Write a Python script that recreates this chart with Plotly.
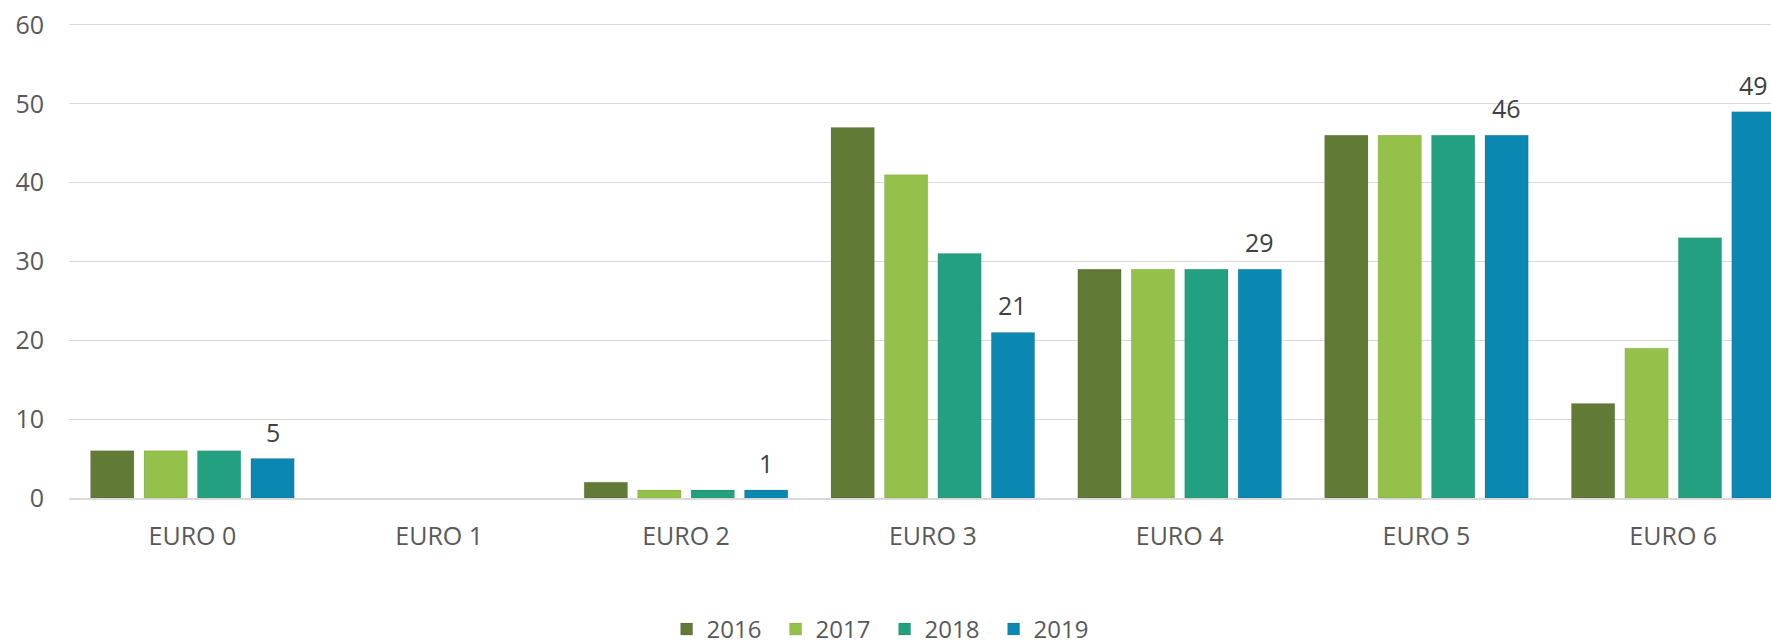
import plotly.graph_objects as go

categories = ["EURO 0", "EURO 1", "EURO 2", "EURO 3", "EURO 4", "EURO 5", "EURO 6"]
years = ["2016", "2017", "2018", "2019"]
v2016 = [6, None, 2, 47, 29, 46, 12]
v2017 = [6, None, 1, 41, 29, 46, 19]
v2018 = [6, None, 1, 31, 29, 46, 33]
v2019 = [5, None, 1, 21, 29, 46, 49]
colors = ["#617A35", "#94C149", "#22A080", "#0B88B1"]

series = [v2016, v2017, v2018, v2019]
FONT = "Open Sans"

# layout geometry (figure px)
W, H = 1771, 643
ML, MR, MT, MB = 69, 0, 21, 145
XR = [-0.5, 6.396]
YR = [0, 60.5]
BARGAP = 0.134
BARGROUPGAP = 0.19

fig = go.Figure()
for name, vals, col in zip(years, series, colors):
    fig.add_trace(go.Bar(
        x=categories, y=vals, name=name,
        marker=dict(color=col, line=dict(width=1, color="rgba(0,0,0,0.10)")),
    ))

# data labels on the 2019 series, centred above the 4th bar of each group
cat_px = (W - ML - MR) / (XR[1] - XR[0])
step = cat_px * (1 - BARGAP) / len(years)
xshift_last = step * (len(years) - 1) / 2
for c, v in zip(categories, v2019):
    if v is None:
        continue
    fig.add_annotation(
        x=c, y=v, text=str(v), showarrow=False,
        xshift=xshift_last, yshift=27, yanchor="middle",
        font=dict(family=FONT, size=25, color="#404040"),
    )

fig.update_layout(
    width=W, height=H,
    barmode="group", bargap=BARGAP, bargroupgap=BARGROUPGAP,
    plot_bgcolor="white", paper_bgcolor="white",
    margin=dict(l=ML, r=MR, t=MT, b=MB),
    font=dict(family=FONT, size=25, color="#595959"),
    legend=dict(
        orientation="h", xref="container", yref="container",
        x=0.4995, xanchor="center", y=0.021, yanchor="middle",
        font=dict(family=FONT, size=24, color="#595959"),
        itemwidth=30, entrywidth=64,
    ),
    xaxis=dict(
        range=XR, showgrid=False,
        showline=True, linecolor="#D9D9D9", linewidth=2,
        ticks="", ticklabelstandoff=15,
        tickfont=dict(family=FONT, size=25, color="#595959"),
    ),
    yaxis=dict(
        range=YR, tickvals=[0, 10, 20, 30, 40, 50, 60],
        showgrid=True, gridcolor="#D9D9D9", gridwidth=1.3,
        zeroline=False, showline=False, ticks="", ticklabelstandoff=24,
        ticklabeloverflow="allow",
        tickfont=dict(family=FONT, size=25, color="#595959"),
    ),
)

fig.write_html(
    "out.html",
    config={"displayModeBar": False},
    post_script="document.body.style.margin='0';document.body.style.overflow='hidden';",
)
